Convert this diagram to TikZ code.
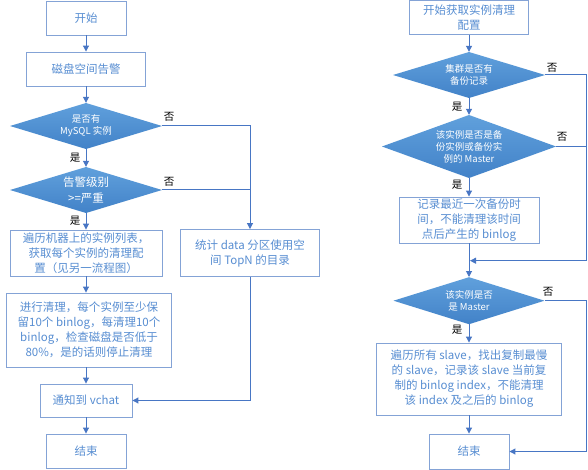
\documentclass[tikz,border=0pt]{standalone}
\usepackage{fontspec}
\setmainfont{Noto Sans CJK SC}
\usetikzlibrary{arrows.meta}
\definecolor{boxline}{RGB}{132,163,214}
\definecolor{boxtext}{RGB}{88,142,210}
\definecolor{conn}{RGB}{72,118,196}
\definecolor{diatop}{RGB}{96,160,220}
\definecolor{diabot}{RGB}{66,130,200}
\tikzset{
  box/.style={draw=boxline, line width=0.9pt, text=boxtext, align=center, inner sep=2pt,
    font=\fontsize{11.5}{15}\selectfont},
  dia/.style={align=center, text=white, inner sep=0pt,
    font=\fontsize{9.5}{12}\selectfont,
    path picture={\shade[top color=diatop, bottom color=diabot]
      (path picture bounding box.north) -- (path picture bounding box.east) --
      (path picture bounding box.south) -- (path picture bounding box.west) -- cycle;}},
  conn/.style={draw=conn, line width=1pt},
  arr/.style={conn, -{Triangle[width=6pt,length=6pt]}},
  lab/.style={font=\fontsize{10.5}{12}\selectfont, text=black, inner sep=0pt}
}
\begin{document}
\begin{tikzpicture}[x=1pt,y=-1pt]
\useasboundingbox[fill=white] (0,0) rectangle (588,470);
% left column
\node[box, minimum width=80pt, minimum height=34pt] (start) at (86,18) {开始};
\node[box, minimum width=119pt, minimum height=34pt] (alarm) at (86,69) {磁盘空间告警};
\node[dia, minimum width=152pt, minimum height=46pt] (d1) at (86,126) {是否有\\MySQL 实例};
\node[dia, minimum width=152pt, minimum height=46pt, font=\fontsize{11.5}{16}\selectfont] (d2) at (86,190) {告警级别\\>=严重};
\node[box, minimum width=152pt, minimum height=46pt] (trav) at (86,253) {遍历机器上的实例列表，\\获取每个实例的清理配\\置（见另一流程图）};
\node[box, minimum width=165pt, minimum height=74pt] (clean) at (89,330) {进行清理，每个实例至少保\\留10个 binlog，每清理10个\\binlog，检查磁盘是否低于\\80\%，是的话则停止清理};
\node[box, minimum width=92pt, minimum height=33pt] (notify) at (86,400.5) {通知到 vchat};
\node[box, minimum width=80pt, minimum height=34pt] (end1) at (86,451) {结束};
\node[box, minimum width=139pt, minimum height=47pt] (stat) at (250,253) {统计 data 分区使用空\\间 TopN 的目录};

\draw[arr] (start) -- (alarm);
\draw[arr] (alarm) -- (d1);
\draw[arr] (d1) -- (d2);
\draw[arr] (d2) -- (trav);
\draw[arr] (trav.south) -- (trav.south |- clean.north);
\draw[arr] (clean.south -| notify.north) -- (notify.north);
\draw[arr] (notify) -- (end1);
\draw[arr] (d1.east) -| (stat.north);
\draw[conn] (d2.east) -- (d2.east -| stat.north);
\draw[arr] (stat.south) |- (notify.east);
\node[lab] (y1) at (75,158) {是};
\node[lab] (y2) at (75,221) {是};
\node[lab] (n1) at (169,117) {否};
\node[lab] (n2) at (169,182) {否};

% right column
\node[box, minimum width=119pt, minimum height=34pt, inner sep=1pt] (rstart) at (469,17.5) {开始获取实例清理\\配置};
\node[dia, minimum width=152pt, minimum height=46pt] (dA) at (469,75) {集群是否有\\备份记录};
\node[dia, minimum width=174pt, minimum height=63pt] (dB) at (469,146.5) {该实例是否是备\\份实例或备份实\\例的 Master};
\node[box, minimum width=140pt, minimum height=46pt, inner sep=1pt] (rec) at (469,220) {记录最近一次备份时\\间，不能清理该时间\\点后产生的 binlog};
\node[dia, minimum width=151pt, minimum height=47pt] (dC) at (469,300.7) {该实例是否\\是 Master};
\node[box, minimum width=185pt, minimum height=72pt] (trav2) at (469,379) {遍历所有 slave，找出复制最慢\\的 slave，记录该 slave 当前复\\制的 binlog index，不能清理\\该 index 及之后的 binlog};
\node[box, minimum width=80pt, minimum height=35pt] (end2) at (469,451.5) {结束};
\coordinate (rr) at (586,0);
\coordinate (j1) at (470,260.7);

\draw[arr] (rstart) -- (dA);
\draw[arr] (dA) -- (dB);
\draw[arr] (dB) -- (rec);
\draw[arr] (rec) -- (dC);
\draw[arr] (dC) -- (trav2);
\draw[arr] (trav2) -- (end2);
\draw[arr] (dA.east) -- (dA.east -| rr) -- (rr |- j1) -- (j1);
\draw[conn] (dB.east) -- (dB.east -| rr);
\draw[arr] (dC.east) -- (dC.east -| rr) |- (end2.east);
\node[lab] (y3) at (457,107) {是};
\node[lab] (y4) at (457,185) {是};
\node[lab] (y5) at (457,330) {是};
\node[lab] (n3) at (552,68) {否};
\node[lab] (n4) at (562,137) {否};
\node[lab] (n5) at (548,292) {否};
\end{tikzpicture}
\end{document}
